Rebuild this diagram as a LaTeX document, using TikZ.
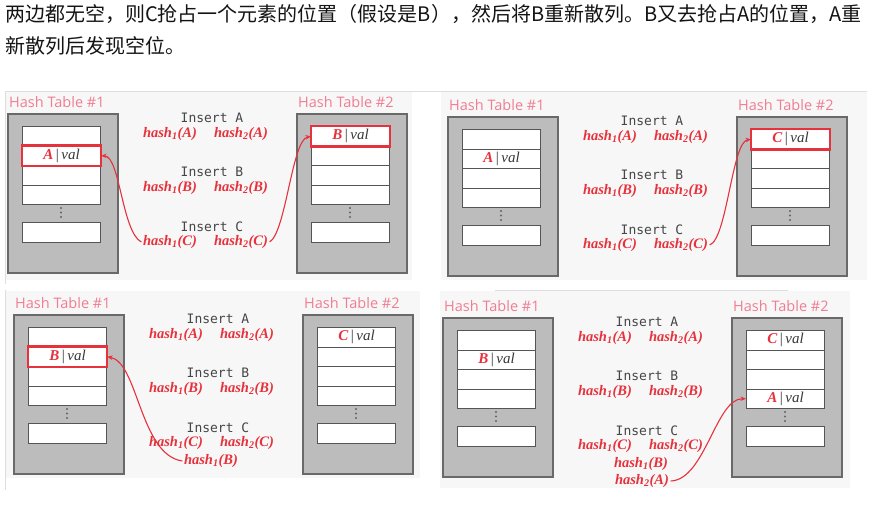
\documentclass[tikz,border=0pt]{standalone}
\usepackage{fontspec}
\setmainfont{Liberation Serif}
\newfontfamily\cjkf{Noto Sans CJK SC}
\newfontfamily\monof{DejaVu Sans Mono}
\newfontfamily\titlef{Open Sans}
\usetikzlibrary{arrows.meta}
\definecolor{hred}{RGB}{230,50,60}
\definecolor{ttlpink}{RGB}{240,125,145}
\definecolor{insgray}{RGB}{70,70,70}
\definecolor{boxfill}{RGB}{188,188,188}
\definecolor{boxborder}{RGB}{105,105,105}
\definecolor{cellborder}{RGB}{85,85,85}
\definecolor{dotgray}{RGB}{100,100,100}
\definecolor{bgp}{RGB}{247,247,247}
\definecolor{edgegray}{RGB}{222,222,222}
\definecolor{valgray}{RGB}{55,55,55}
\definecolor{cntext}{RGB}{20,20,20}
\newcommand\hs[2]{hash\textsubscript{#1}(#2)}
\newcommand\cv[1]{\textcolor{hred}{\bfseries\itshape #1}\,\textcolor{valgray}{|}\,\textcolor{valgray}{\itshape val}}
\newcommand\htable[3]{%
  \node[tbox] (#1box) at (#2,#3) {};
  \foreach \i in {1,2,3,4}{
    \node[cell] (#1r\i) at (#2+15,#3+13+\i*19.5-19.5) {};
  }
  \node[cell] (#1r5) at (#2+15,#3+109) {};
  \foreach \j in {0,1,2} \fill[dotgray] (#2+54,#3+95+\j*4.5) circle (1.05);
}
\newcommand\mypanel[3]{%
  \htable{#1L}{#2}{#3}
  \htable{#1R}{#2+289}{#3}
  \node[ttl] (#1tL) at (#2+2,#3-11) {Hash Table \#1};
  \node[ttl] (#1tR) at (#2+291,#3-11) {Hash Table \#2};
  \node[ins] (#1iA) at (#2+205,#3+5) {Insert A};
  \node[hsh] (#1a1) at (#2+163,#3+21) {\hs{1}{A}};
  \node[hsh] (#1a2) at (#2+234,#3+21) {\hs{2}{A}};
  \node[ins] (#1iB) at (#2+205,#3+59) {Insert B};
  \node[hsh] (#1b1) at (#2+163,#3+75) {\hs{1}{B}};
  \node[hsh] (#1b2) at (#2+234,#3+75) {\hs{2}{B}};
  \node[ins] (#1iC) at (#2+205,#3+114) {Insert C};
  \node[hsh] (#1c1) at (#2+163,#3+129) {\hs{1}{C}};
  \node[hsh] (#1c2) at (#2+234,#3+129) {\hs{2}{C}};
}
\begin{document}
\begin{tikzpicture}[x=1pt,y=-1pt,
  tbox/.style={draw=boxborder, fill=boxfill, line width=1.6pt, minimum width=110pt, minimum height=159pt, inner sep=0, anchor=north west},
  cell/.style={draw=cellborder, fill=white, line width=1.1pt, minimum width=78pt, minimum height=19.5pt, inner sep=0, anchor=north west},
  ins/.style={font=\monof\fontsize{13}{15}\selectfont, text=insgray, inner sep=0},
  hsh/.style={font=\fontsize{14.5}{16}\selectfont\bfseries\itshape, text=hred, inner sep=1.5pt},
  ttl/.style={font=\titlef\fontsize{14.5}{16}\selectfont, text=ttlpink, inner sep=0, anchor=west},
  cellt/.style={font=\fontsize{15}{17}\selectfont, inner sep=0},
  hl/.style={draw=hred, line width=2.3pt},
  arr/.style={draw=hred, line width=1.1pt, -{Stealth[length=5.5pt,width=4.5pt]}},
  cn/.style={anchor=west, inner sep=0, text=cntext, font=\cjkf\fontsize{20}{24}\selectfont}
]
\useasboundingbox (0,0) rectangle (881,511);
\fill[white] (0,0) rectangle (881,511);
% heading text
\node[cn] (line1) at (5,14) {两边都无空，则C抢占一个元素的位置（假设是B），然后将B重新散列。B又去抢占A的位置，A重};
\node[cn] (line2) at (5,46) {新散列后发现空位。};
% panel backgrounds
\fill[bgp] (5,92) rectangle (412,280);
\fill[bgp] (441,92) rectangle (867,280);
\fill[bgp] (5,291) rectangle (420,478);
\fill[bgp] (440,291) rectangle (850,488);
\draw[edgegray, line width=1pt] (5,91) -- (867,91);
\draw[edgegray, line width=1pt] (5,91) -- (5,284);
\draw[edgegray, line width=1pt] (5,290) -- (5,490);
\draw[edgegray, line width=1pt] (495,290) -- (788,290);
% panels
\mypanel{p1}{7}{113}
\mypanel{p2}{447}{116}
\mypanel{p3}{13}{314}
\mypanel{p4}{442}{317}
\node[hsh] (p3hB) at (211,461) {\hs{1}{B}};
\node[hsh] (p4hB) at (641,464) {\hs{1}{B}};
\node[hsh] (p4hA) at (642,481) {\hs{2}{A}};
% cell contents
\node[cellt] (p1LA) at (p1Lr2) {\cv{A}};
\node[cellt] (p1RB) at (p1Rr1) {\cv{B}};
\node[cellt] (p2LA) at (p2Lr2) {\cv{A}};
\node[cellt] (p2RC) at (p2Rr1) {\cv{C}};
\node[cellt] (p3LB) at (p3Lr2) {\cv{B}};
\node[cellt] (p3RC) at (p3Rr1) {\cv{C}};
\node[cellt] (p4LB) at (p4Lr2) {\cv{B}};
\node[cellt] (p4RC) at (p4Rr1) {\cv{C}};
\node[cellt] (p4RA) at (p4Rr4) {\cv{A}};
% highlights
\draw[hl] (p1Lr2.north west) rectangle (p1Lr2.south east);
\draw[hl] (p1Rr1.north west) rectangle (p1Rr1.south east);
\draw[hl] (p2Rr1.north west) rectangle (p2Rr1.south east);
\draw[hl] (p3Lr2.north west) rectangle (p3Lr2.south east);
% arrows
\draw[arr] (p1c1.west) .. controls (122,232) and (120,156) .. (p1Lr2.east);
\draw[arr] (p1c2.east) .. controls (286,232) and (292,140) .. (p1Rr1.west);
\draw[arr] (p2c2.east) .. controls (727,239) and (732,142) .. (p2Rr1.west);
\draw[arr] (p3hB.west) .. controls (140,455) and (138,362) .. (p3Lr2.east);
\draw[arr] (p4hA.east) .. controls (705,480) and (716,398) .. (p4Rr4.west);
\end{tikzpicture}
\end{document}
